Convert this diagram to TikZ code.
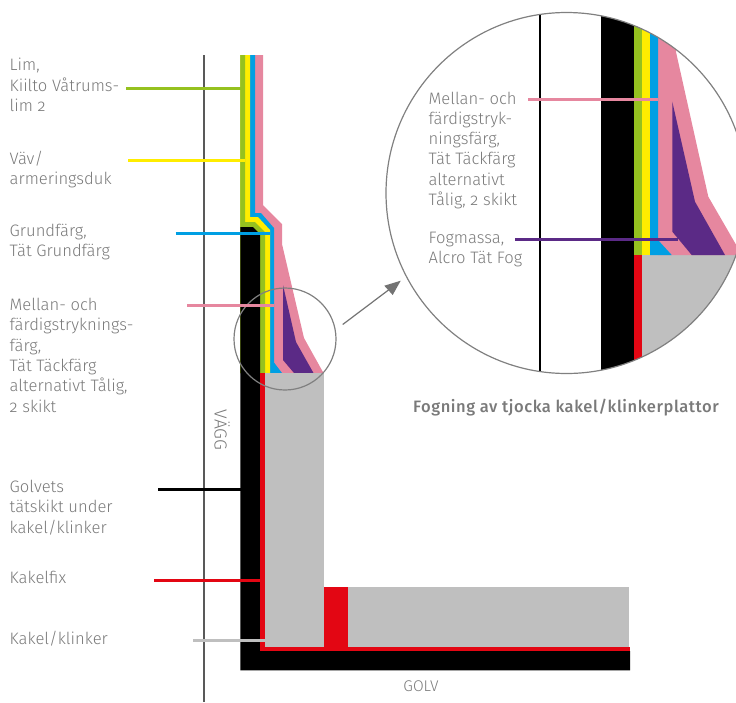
\documentclass[tikz,border=0pt]{standalone}
\usepackage{fontspec}
\setmainfont{Fira Sans Light}[Numbers=OldStyle,BoldFont={Fira Sans Medium}]
\definecolor{cgreen}{HTML}{95C11F}
\definecolor{cyellow}{HTML}{FFED00}
\definecolor{cblue}{HTML}{009FE3}
\definecolor{cpink}{HTML}{E6879F}
\definecolor{cpurple}{HTML}{5B2A86}
\definecolor{cred}{HTML}{E30613}
\definecolor{cgray}{HTML}{BFBFBF}
\definecolor{ctext}{HTML}{7A7A7A}
\tikzset{
  lab/.style={anchor=north west,align=left,inner sep=0pt,text=ctext,font=\fontsize{16.6}{20.3}\selectfont},
  plain/.style={inner sep=0pt,text=ctext,font=\fontsize{15.5}{18}\selectfont},
  leader/.style={line width=3pt},
  ring/.style={draw=black!50,line width=1.2pt}
}
\begin{document}
\begin{tikzpicture}[x=1pt,y=-1pt]
\useasboundingbox (0,0) rectangle (736,702);
% wall line
\draw[black!65,line width=1.5pt] (204,55) -- (204,702);
% small drawing layers
\fill[cpink] (240.3,55)--(263,55)--(263,205)--(282,224)--(282,244)--(304,338)--(323.5,373)--(240.3,373)--cycle;
\fill[cpurple] (283,285)--(296,342)--(313.5,373)--(294,373)--(283,360)--cycle;
\fill[cblue] (240.3,55)--(255,55)--(255,213)--(261,213)--(274,228)--(274,362.5)--(282,373)--(240.3,373)--cycle;
\fill[cyellow] (240.3,55)--(250,55)--(250,217)--(258,217)--(270,230)--(270,373)--(240.3,373)--cycle;
\fill[cgreen] (240.3,55)--(245,55)--(245,222)--(255,222)--(265,232)--(265,373)--(240.3,373)--cycle;
\fill[black] (240.3,227)--(253,227)--(260,234)--(260,651)--(630,651)--(630,670.3)--(240.3,670.3)--cycle;
\fill[cred] (260,373.3) rectangle (265,651);
\fill[cred] (260,646.7) rectangle (630,651);
\fill[cred] (324.3,587.3) rectangle (347.7,651);
\fill[cgray] (265,373.3) rectangle (324.3,646.7);
\fill[cgray] (347.7,587.3) rectangle (629,646.7);
% magnifier ring on small drawing
\node[circle,ring,minimum size=102pt,inner sep=0pt] (small) at (285,339) {};
% big circle detail
\begin{scope}
\clip (566.5,193) circle (180.5);
\draw[black,line width=2pt] (540,0) -- (540,400);
\fill[cgray] (641.7,255) rectangle (760,400);
\fill[cpink] (658,0)--(676,0)--(676,52)--(708.3,196.7)--(742,255)--(658,255)--cycle;
\fill[cpurple] (672.3,101.7)--(695,201.7)--(725,255)--(691.7,255)--(672.3,231.7)--cycle;
\fill[cblue] (650,0)--(658,0)--(658,240)--(671.7,255)--(650,255)--cycle;
\fill[cyellow] (641.7,0) rectangle (650,255);
\fill[cgreen] (633.7,0) rectangle (641.7,255);
\fill[black] (601,0) rectangle (633.7,400);
\fill[cred] (633.7,255) rectangle (641.7,400);
\end{scope}
\node[circle,ring,minimum size=361pt,inner sep=0pt] (big) at (566.5,193) {};
% arrow
\coordinate (arrA) at (342.7,324.5);
\coordinate (arrB) at (388.5,290);
\draw[black!55,line width=1.2pt] (arrA) -- (arrB);
\fill[black!55] (400.7,280.7)--(384.3,285.7)--(392.7,295)--cycle;
% labels
\node[lab] (t1) at (9.5,58) {Lim,\\Kiilto Våtrums-\\lim 2};
\node[lab] (t2) at (9.5,151) {Väv/\\armeringsduk};
\node[lab] (t3) at (9.5,224) {Grundfärg,\\Tät Grundfärg};
\node[lab] (t4) at (9.5,298) {Mellan- och\\färdigstryknings-\\färg,\\Tät Täckfärg\\alternativt Tålig,\\2 skikt};
\node[lab] (t5) at (9.5,480) {Golvets\\tätskikt under\\kakel/klinker};
\node[lab] (t6) at (9.5,571) {Kakelfix};
\node[lab] (t7) at (9.5,631) {Kakel/klinker};
\node[lab] (t8) at (428.5,91.5) {Mellan- och\\färdigstryk-\\ningsfärg,\\Tät Täckfärg\\alternativt\\Tålig, 2 skikt};
\node[lab] (t9) at (428.5,232) {Fogmassa,\\Alcro Tät Fog};
\node[plain,rotate=-90,font=\fontsize{17.5}{20}\selectfont] (vagg) at (222,430) {VÄGG};
\node[plain] (golv) at (421,686) {GOLV};
\node[plain,font=\fontsize{16.5}{19}\bfseries\selectfont\addfontfeatures{LetterSpace=3.4}] (cap) at (566,407.5) {Fogning av tjocka kakel/klinkerplattor};
% leaders
\coordinate (e1) at (240.5,88.7); \coordinate (s1) at (126,88.7);
\coordinate (e2) at (245,160); \coordinate (s2) at (128,160);
\coordinate (e3) at (270,233.3); \coordinate (s3) at (175.5,233.3);
\coordinate (e4) at (274,305.7); \coordinate (s4) at (187,305.7);
\coordinate (e5) at (240.5,489.5); \coordinate (s5) at (158,489.5);
\coordinate (e6) at (260,580.7); \coordinate (s6) at (154,580.7);
\coordinate (e7) at (265,640); \coordinate (s7) at (193,640);
\coordinate (e8) at (658,99.5); \coordinate (s8) at (528,99.5);
\coordinate (e9) at (678,239.5); \coordinate (s9) at (515,239.5);
\draw[leader,cgreen] (s1) -- (e1);
\draw[leader,cyellow] (s2) -- (e2);
\draw[leader,cblue] (s3) -- (e3);
\draw[leader,cpink] (s4) -- (e4);
\draw[leader,black] (s5) -- (e5);
\draw[leader,cred] (s6) -- (e6);
\draw[leader,cgray] (s7) -- (e7);
\draw[leader,cpink] (s8) -- (e8);
\draw[leader,cpurple] (s9) -- (e9);
\end{tikzpicture}
\end{document}
